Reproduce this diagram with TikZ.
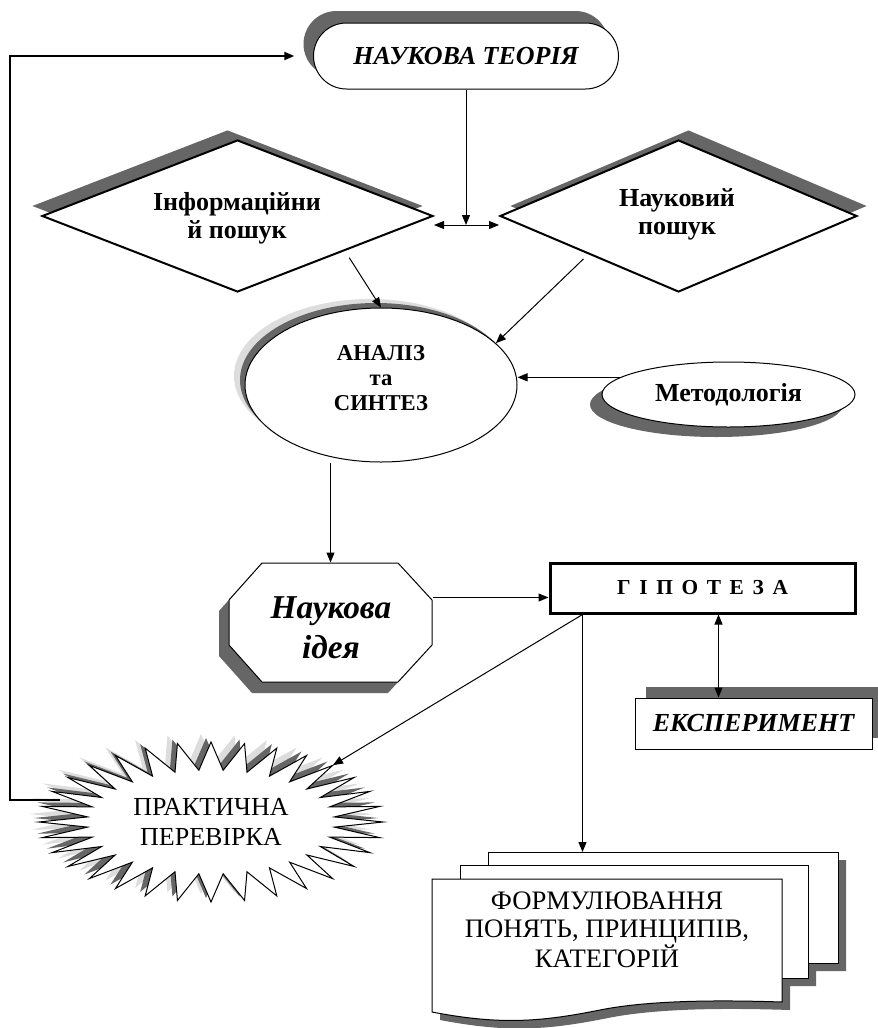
\documentclass[tikz,border=0pt]{standalone}
\usepackage{fontspec}
\setmainfont{Liberation Serif}
\usetikzlibrary{shapes.geometric,shapes.misc,arrows.meta,calc}

\tikzset{every picture/.style={line width=0.75pt}}
\tikzset{
  shd/.style={fill={rgb, 255:red, 102; green, 102; blue, 102 }, draw=none},
  shl/.style={fill={rgb, 255:red, 221; green, 221; blue, 221 }, draw=none},
  arr/.style={-{Triangle[length=7.5pt,width=6pt]}},
  dblarr/.style={{Triangle[length=7.5pt,width=6pt]}-{Triangle[length=7.5pt,width=6pt]}},
  fbline/.style={line width=1.5pt, -{Triangle[length=7.5pt,width=6pt]}},
  teoriabox/.style={rounded rectangle, minimum width=228.75pt, minimum height=49.5pt, inner sep=0pt},
  rombbox/.style={diamond, minimum height=114pt, inner sep=0pt, line width=1.5pt},
  rombtext/.style={align=center, font=\fontsize{19.5}{21}\selectfont\bfseries},
  ovalbox/.style={ellipse, inner sep=0pt},
}
% explosion outline, 32 points round (211,822)
\newcommand{\burstpath}{(383,822) \foreach \i in {0,...,31} { -- ({211+172*cos(\i*11.25)},{822+80*sin(\i*11.25)}) -- ({211+124*cos(\i*11.25+5.625)},{822+52*sin(\i*11.25+5.625)}) } -- cycle}
% octagon of the idea
\newcommand{\ideyapath}{(262,563) -- (398,563) -- (432,600) -- (432,645) -- (398,682) -- (262,682) -- (229,645) -- (229,600) -- cycle}

\begin{document}
\begin{tikzpicture}[x=0.75pt,y=0.75pt,yscale=-1,xscale=1]
\useasboundingbox (0,0) rectangle (878,1028);

%Terminator: scientific theory
\node [teoriabox, shd] (teoriaS) at (456,44) {};
\node [teoriabox, draw, fill=white, font=\fontsize{19.5}{22}\selectfont\bfseries\itshape] (teoria) at (466,56) {НАУКОВА ТЕОРІЯ};

%Decisions: two kinds of search
\node [rombbox, shd, minimum width=293.25pt] (infoS) at (227.5,206) {};
\node [rombbox, draw, fill=white, minimum width=293.25pt] (info) at (237.5,216) {};
\node [rombtext] (infoT) at (237,218) {Інформаційни\\й пошук};
\node [rombbox, shd, minimum width=267.75pt] (naukS) at (688.5,206) {};
\node [rombbox, draw, fill=white, minimum width=267.75pt] (nauk) at (678.5,216) {};
\node [rombtext] (naukT) at (677,214) {Науковий\\пошук};

%Ellipses: analysis and methodology
\node [ovalbox, shl, minimum width=204pt, minimum height=115.5pt] (anlzL) at (370,376) {};
\node [ovalbox, shd, minimum width=204pt, minimum height=115.5pt] (anlzD) at (376,380) {};
\node [ovalbox, draw, fill=white, minimum width=204pt, minimum height=115.5pt] (anlz) at (381,385) {};
\node [align=center, font=\fontsize{17}{19}\selectfont\bfseries] (anlzT) at (381,378) {АНАЛІЗ\\та\\СИНТЕЗ};
\node [ovalbox, shd, minimum width=189.75pt, minimum height=48.75pt] (metodS) at (716.5,404.5) {};
\node [ovalbox, draw, fill=white, minimum width=189.75pt, minimum height=48.75pt, font=\fontsize{19.5}{21}\selectfont\bfseries] (metod) at (728.5,394.5) {Методологія};

%Octagon: scientific idea
\begin{scope}[shift={(-10,11)}]
\fill [shd] \ideyapath ;
\end{scope}
\draw [fill=white] \ideyapath ;
\node [minimum width=152.25pt, minimum height=89.25pt, inner sep=0pt] (ideya) at (330.5,622.5) {};
\node [align=center, font=\fontsize{25}{30}\selectfont\bfseries\itshape] (ideyaT) at (331,628) {Наукова\\ідея};

%Process: hypothesis and experiment
\node [draw, fill=white, line width=2.25pt, minimum width=228.75pt, minimum height=37.5pt, inner sep=0pt, font=\fontsize{16}{18}\selectfont\bfseries] (gipo) at (702.5,588) {\spaceskip=6.5pt Г І П О Т Е З А};
\node [shd, minimum width=177.75pt, minimum height=38.25pt, inner sep=0pt] (ekspS) at (764.5,712.5) {};
\node [draw, fill=white, minimum width=177.75pt, minimum height=38.25pt, inner sep=0pt, font=\fontsize{19.5}{22}\selectfont\bfseries\itshape] (eksp) at (753.5,723.5) {ЕКСПЕРИМЕНТ};

%Explosion: practical check
\begin{scope}[shift={(-10,-8)}]
\fill [shl] \burstpath ;
\end{scope}
\begin{scope}[shift={(-5,-4)}]
\fill [shd] \burstpath ;
\end{scope}
\draw [fill=white] \burstpath ;
\node [ovalbox, minimum width=258pt, minimum height=120pt, align=center, font=\fontsize{19.5}{22}\selectfont] (burst) at (211,822) {ПРАКТИЧНА\\ПЕРЕВІРКА};

%Flowchart: Multidocument
\begin{scope}[shift={(8,8)}]
\fill [shd] (488,852) -- (838,852) -- (838,963) -- (808,963) -- (808,978) -- (782,978) -- (782,1002) .. controls (720,1000) and (650,1000) .. (600,1010) .. controls (540,1022) and (500,1025) .. (432,1012) -- (432,879) -- (460,879) -- (460,865) -- (488,865) -- cycle ;
\end{scope}
\draw [fill=white] (488,852) -- (838,852) -- (838,963) -- (488,963) -- cycle ;
\draw [fill=white] (460,865) -- (808,865) -- (808,978) -- (460,978) -- cycle ;
\draw [fill=white] (432,879) -- (782,879) -- (782,1002) .. controls (720,1000) and (650,1000) .. (600,1010) .. controls (540,1022) and (500,1025) .. (432,1012) -- cycle ;
\coordinate (doctop) at (600,852);
\node [align=center, font=\fontsize{20}{21}\selectfont] (formul) at (607,930) {ФОРМУЛЮВАННЯ\\ПОНЯТЬ, ПРИНЦИПІВ,\\КАТЕГОРІЙ};

%Connectors
\coordinate (mid) at ($(info.east)+(0,9)$);
\coordinate (ideyaout) at ($(ideya.east)+(0,-25)$);
\coordinate (gipoexp) at ($(gipo.south)+(16,0)$);
\coordinate (gipoout) at ($(gipo.south west)+(34,0)$);
\coordinate (fbstart) at (60,800);

\draw [dblarr] (mid) -- (mid -| nauk.west);
\draw [arr] (teoria.south) -- (teoria.south |- mid);
\draw [arr, shorten <=6pt] (info.-18) -- (anlz.north);
\draw [arr, shorten <=5pt] (nauk.203) -- (anlz.20);
\draw [arr] (metod.171) -- (metod.171 -| anlz.east);
\draw [arr] (ideya.north |- anlz.south) -- (ideya.north);
\draw [arr] (ideyaout) -- (ideyaout -| gipo.west);
\draw [dblarr] (gipoexp) -- (gipoexp |- eksp.north);
\draw [arr] (gipoout) -- (burst.25);
\draw [arr] (gipoout) -- (gipoout |- doctop);
\draw [fbline, shorten >=14pt] (fbstart) -- ++(-50,0) |- (teoria.west);

\end{tikzpicture}
\end{document}
